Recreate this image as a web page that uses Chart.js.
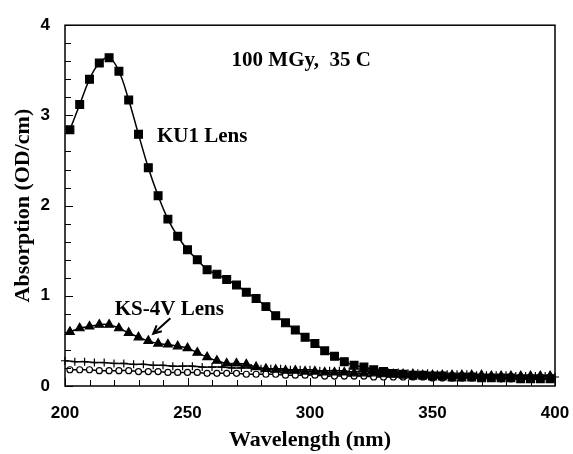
<!DOCTYPE html>
<html>
<head>
<meta charset="utf-8">
<script src="https://cdn.jsdelivr.net/npm/chart.js@4/dist/chart.umd.min.js"></script>
<style>
html, body { margin: 0; padding: 0; background: #fff; }
#box { width: 573px; height: 454px; }
</style>
</head>
<body>
<div id="box"><canvas id="spectre"></canvas></div>
<script>
// longueurs d'onde (nm)
var onde = [202,206,210,214,218,222,226,230,234,238,242,246,250,254,258,262,266,270,274,278,
	282,286,290,294,298,302,306,310,314,318,322,326,330,334,338,342,346,350,354,358,
	362,366,370,374,378,382,386,390,394,398]
var ondeCroix = [200,204,208,212,216,220,224,228,232,236,240,244,248,252,256,260,264,268,272,276,
	280,284,288,292,296,300,304,308,312,316,320,324,328,332,336,340,344,348,352,356,
	360,364,368,372,376,380,384,388,392,396,400]
// absorption (OD/cm)
var ku1 = [2.84,3.12,3.40,3.58,3.64,3.49,3.17,2.79,2.42,2.11,1.85,1.66,1.51,1.40,1.29,1.24,1.18,1.12,1.04,0.97,
	0.88,0.78,0.70,0.62,0.54,0.47,0.39,0.33,0.27,0.23,0.21,0.18,0.16,0.14,0.13,0.12,0.12,0.11,0.11,0.10,
	0.10,0.10,0.09,0.09,0.09,0.09,0.08,0.08,0.08,0.08]
var ks4v = [0.60,0.64,0.66,0.68,0.68,0.64,0.59,0.54,0.50,0.47,0.46,0.44,0.42,0.37,0.32,0.28,0.25,0.25,0.24,0.21,
	0.19,0.18,0.17,0.17,0.16,0.16,0.15,0.15,0.15,0.14,0.14,0.14,0.13,0.13,0.13,0.13,0.12,0.12,0.12,0.12,
	0.12,0.12,0.12,0.11,0.11,0.11,0.11,0.11,0.11,0.11]
var croix = [0.28,0.27,0.27,0.26,0.26,0.25,0.25,0.24,0.24,0.23,0.23,0.22,0.22,0.22,0.21,0.21,0.21,0.20,0.20,0.20,
	0.19,0.19,0.19,0.18,0.18,0.18,0.17,0.17,0.17,0.16,0.16,0.16,0.15,0.15,0.15,0.14,0.14,0.14,0.13,0.13,
	0.13,0.13,0.12,0.12,0.12,0.12,0.11,0.11,0.11,0.11,0.10]
var cercles = [0.18,0.18,0.18,0.17,0.17,0.17,0.17,0.16,0.16,0.16,0.15,0.15,0.15,0.15,0.14,0.14,0.14,0.14,0.13,0.13,
	0.13,0.13,0.12,0.12,0.12,0.12,0.11,0.11,0.11,0.11,0.11,0.10,0.10,0.10,0.10,0.10,0.10,0.09,0.09,0.09,
	0.09,0.09,0.09,0.09,0.08,0.08,0.08,0.08,0.08,0.08]
var xTicks = [200,250,300,350,400]
var yTicks = [0,1,2,3,4]

var serif = "'Liberation Serif', 'Times New Roman', serif"
var sans = "'Liberation Sans', Arial, sans-serif"

function points(xs, ys){
	var res = []
	for(var i=0;i<ys.length;i++){
		res.push({x: xs[i], y: ys[i]})
	}
	return res
}

// textes et fleche places en coordonnees de donnees
var notes = [
	{texte: "100 MGy,  35 C", x: 268, y: 3.55},
	{texte: "KU1 Lens", x: 237.5, y: 2.70},
	{texte: "KS-4V Lens", x: 220.3, y: 0.79}
]
var fleche = {x1: 243, y1: 0.75, x2: 236, y2: 0.58}

var habillage = {
	id: "habillage",
	afterDraw: function(chart){
		var ctx = chart.ctx
		var a = chart.chartArea
		var sx = chart.scales.x
		var sy = chart.scales.y
		ctx.save()
		ctx.strokeStyle = "#000"
		ctx.lineWidth = 1.5
		ctx.strokeRect(a.left, a.top, a.right - a.left, a.bottom - a.top)
		// graduations vers l'interieur
		ctx.lineWidth = 1
		ctx.beginPath()
		for(var v=200;v<=400;v+=10){
			var px = Math.round(sx.getPixelForValue(v)) + 0.5
			var l = (v % 50 == 0) ? 8 : 6
			ctx.moveTo(px, a.bottom)
			ctx.lineTo(px, a.bottom - l)
		}
		for(var k=0;k<=20;k++){
			var py = Math.round(sy.getPixelForValue(k*0.2)) + 0.5
			var l2 = (k % 5 == 0) ? 8 : 6
			ctx.moveTo(a.left, py)
			ctx.lineTo(a.left + l2, py)
		}
		ctx.stroke()
		// textes
		ctx.fillStyle = "#000"
		ctx.font = "bold 21px " + serif
		ctx.textBaseline = "alphabetic"
		ctx.textAlign = "left"
		for(var i=0;i<notes.length;i++){
			ctx.fillText(notes[i].texte, sx.getPixelForValue(notes[i].x), sy.getPixelForValue(notes[i].y))
		}
		// fleche
		var x1 = sx.getPixelForValue(fleche.x1), y1 = sy.getPixelForValue(fleche.y1)
		var x2 = sx.getPixelForValue(fleche.x2), y2 = sy.getPixelForValue(fleche.y2)
		var ang = Math.atan2(y2 - y1, x2 - x1)
		ctx.lineWidth = 2
		ctx.beginPath()
		ctx.moveTo(x1, y1)
		ctx.lineTo(x2, y2)
		ctx.moveTo(x2 - 9*Math.cos(ang - 0.45), y2 - 9*Math.sin(ang - 0.45))
		ctx.lineTo(x2, y2)
		ctx.lineTo(x2 - 9*Math.cos(ang + 0.45), y2 - 9*Math.sin(ang + 0.45))
		ctx.stroke()
		ctx.restore()
	}
}

var serie = function(label, xs, ys, style, rayon, fond){
	return {
		label: label,
		data: points(xs, ys),
		showLine: true,
		borderColor: "#000",
		borderWidth: 1.5,
		tension: 0.4,
		pointStyle: style,
		pointRadius: rayon,
		pointBorderWidth: 1.2,
		pointBorderColor: "#000",
		pointBackgroundColor: fond,
		clip: false
	}
}

new Chart("spectre", {
	type: "scatter",
	data: {
		datasets: [
			serie("KU1 Lens", onde, ku1, "rect", 5.5, "#000"),
			serie("KS-4V Lens", onde, ks4v, "triangle", 5, "#000"),
			serie("croix", ondeCroix, croix, "cross", 4, "#000"),
			serie("cercles", onde, cercles, "circle", 3, "#fff")
		]
	},
	plugins: [habillage],
	options: {
		responsive: true,
		maintainAspectRatio: false,
		animation: false,
		layout: {padding: {top: 17, right: 18, left: 0, bottom: 0}},
		plugins: {legend: {display: false}, tooltip: {enabled: false}},
		scales: {
			x: {
				type: "linear",
				min: 200, max: 400,
				afterFit: function(s){ s.height = 68; s.paddingRight = 0; s.paddingLeft = 0 },
				afterBuildTicks: function(s){ s.ticks = xTicks.map(function(v){ return {value: v} }) },
				grid: {display: false, drawTicks: false},
				border: {display: false},
				ticks: {color: "#000", padding: 17, font: {family: sans, size: 17, weight: "bold"}},
				title: {display: true, text: "Wavelength (nm)", color: "#000", padding: {top: 6, bottom: 0},
					font: {family: serif, size: 22, weight: "bold"}}
			},
			y: {
				type: "linear",
				min: 0, max: 4,
				afterFit: function(s){ s.width = 65 },
				afterBuildTicks: function(s){ s.ticks = yTicks.map(function(v){ return {value: v} }) },
				grid: {display: false, drawTicks: false},
				border: {display: false},
				ticks: {color: "#000", padding: 15, font: {family: sans, size: 17, weight: "bold"}},
				title: {display: true, text: "Absorption (OD/cm)", color: "#000", padding: {top: 10, bottom: 0},
					font: {family: serif, size: 22, weight: "bold"}}
			}
		}
	}
})
</script>
</body>
</html>
